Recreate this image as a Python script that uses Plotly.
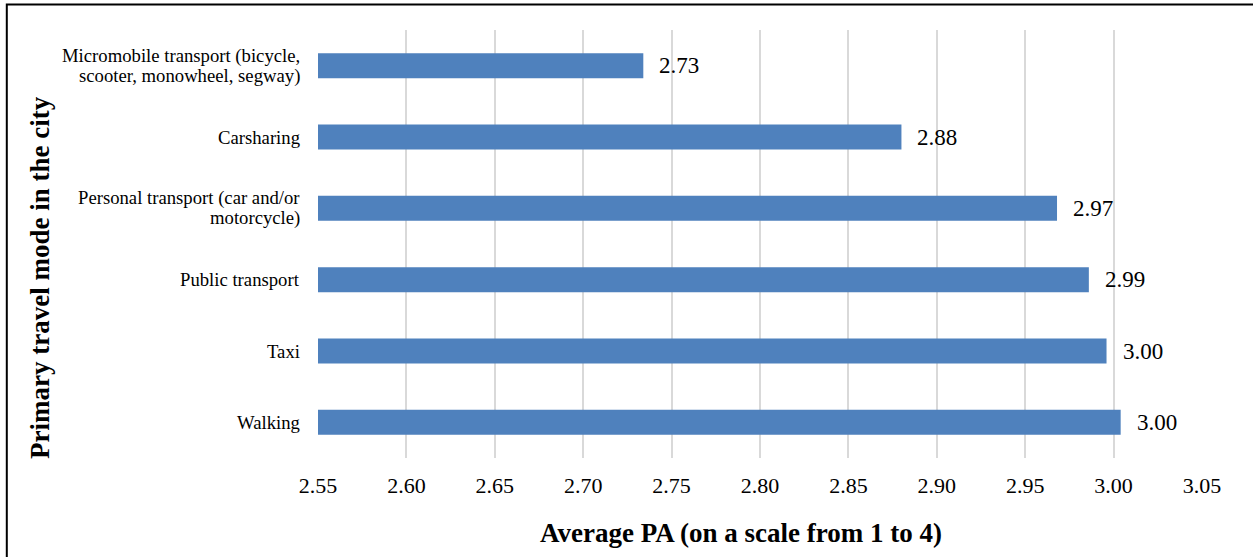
import plotly.graph_objects as go

categories = [
    "Micromobile transport (bicycle,<br>scooter, monowheel, segway)",
    "Carsharing",
    "Personal transport (car and/or<br>motorcycle)",
    "Public transport",
    "Taxi",
    "Walking",
]
values = [2.734, 2.880, 2.968, 2.986, 2.996, 3.004]
value_labels = ["2.73", "2.88", "2.97", "2.99", "3.00", "3.00"]
x_ticks = [2.55, 2.60, 2.65, 2.70, 2.75, 2.80, 2.85, 2.90, 2.95, 3.00, 3.05]
x_tick_labels = ["%.2f" % t for t in x_ticks]

FONT = "Liberation Serif, Times New Roman, serif"
W, H = 1253, 557
L, R, T, B = 318, 51, 30, 99
pw, ph = W - L - R, H - T - B

def px_x(p):
    return (p - L) / pw

def px_y(p):
    return (H - B - p) / ph

fig = go.Figure()
fig.add_trace(go.Bar(
    x=values, y=categories, orientation="h",
    marker=dict(color="#4F81BD", line=dict(width=0)),
    hoverinfo="x+y",
))

annotations = []
for v, c, lab in zip(values, categories, value_labels):
    annotations.append(dict(
        x=v, y=c, xref="x", yref="y", text=lab, showarrow=False,
        xanchor="left", yanchor="middle", xshift=14,
        font=dict(family=FONT, size=23, color="black"),
    ))
    lines = c.split("<br>")
    n = len(lines)
    for i, ln in enumerate(lines):
        annotations.append(dict(
            x=0, y=c, xref="paper", yref="y", text=ln, showarrow=False,
            xanchor="right", yanchor="middle", xshift=-16,
            yshift=(n - 1) * 10 - i * 20,
            font=dict(family=FONT, size=18.7, color="black"),
        ))
annotations.append(dict(
    x=px_x(741), y=px_y(533), xref="paper", yref="paper",
    text="<b>Average PA (on a scale from 1 to 4)</b>", showarrow=False,
    xanchor="center", yanchor="middle",
    font=dict(family=FONT, size=27, color="black"),
))
annotations.append(dict(
    x=px_x(40), y=px_y(278), xref="paper", yref="paper",
    text="<b>Primary travel mode in the city</b>", showarrow=False,
    textangle=-90, xanchor="center", yanchor="middle",
    font=dict(family=FONT, size=27, color="black"),
))

fig.update_layout(
    width=W, height=H,
    margin=dict(l=L, r=R, t=T, b=B, pad=0),
    paper_bgcolor="white", plot_bgcolor="white",
    bargap=0.65,
    showlegend=False,
    annotations=annotations,
    shapes=[dict(
        type="rect", xref="paper", yref="paper",
        x0=px_x(6.8), x1=px_x(1265), y0=px_y(570), y1=px_y(4.5),
        line=dict(color="black", width=2), fillcolor="rgba(0,0,0,0)",
        layer="above",
    )],
    xaxis=dict(
        range=[2.55, 3.05], tickvals=x_ticks, ticktext=x_tick_labels,
        showgrid=True, gridcolor="#D9D9D9", gridwidth=2,
        zeroline=False, showline=False,
        ticks="outside", ticklen=8, tickcolor="white",
        tickfont=dict(family=FONT, size=22, color="black"),
    ),
    yaxis=dict(
        autorange="reversed",
        showgrid=False, zeroline=False, showline=False,
        showticklabels=False,
    ),
)

fig.write_html(
    "out.html",
    config={"displayModeBar": False},
    post_script="document.body.style.margin='0';document.body.style.overflow='hidden';",
)
